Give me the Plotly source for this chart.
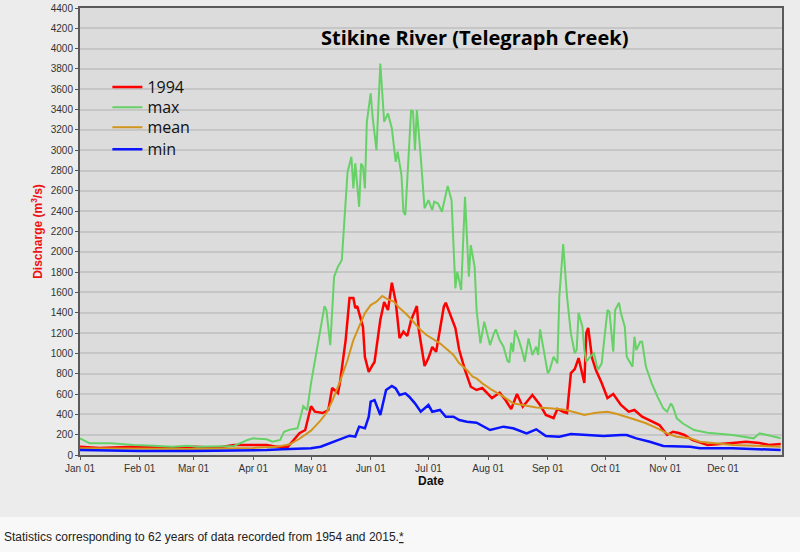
"""Stikine River (Telegraph Creek) daily discharge: 1994 vs. long-term statistics."""

import plotly.graph_objects as go

YEAR = 1994

# 1994 daily discharge (m3/s)
flow_1994_days = [
    "01-01", "01-11", "01-29", "02-15", "03-01", "03-13", "03-22", "04-01", "04-08",
    "04-13", "04-19", "04-22", "04-25", "04-28", "05-01", "05-03", "05-07", "05-10",
    "05-12", "05-15", "05-16", "05-19", "05-21", "05-23", "05-24", "05-25", "05-28",
    "05-29", "05-31", "06-02", "06-03", "06-06", "06-08", "06-10", "06-12", "06-14",
    "06-16", "06-18", "06-20", "06-22", "06-25", "06-26", "06-29", "07-01", "07-03",
    "07-05", "07-09", "07-10", "07-12", "07-15", "07-17", "07-20", "07-23", "07-26",
    "07-29", "07-31", "08-03", "08-07", "08-10", "08-13", "08-16", "08-19", "08-24",
    "08-28", "08-31", "09-04", "09-06", "09-09", "09-11", "09-13", "09-15", "09-17",
    "09-20", "09-21", "09-22", "09-24", "09-26", "09-29", "10-02", "10-05", "10-09",
    "10-13", "10-16", "10-20", "10-25", "10-29", "11-02", "11-05", "11-08", "11-11",
    "11-15", "11-23", "12-06", "12-13", "12-20", "12-25", "12-31",
]
flow_1994 = [
    82, 69, 82, 72, 82, 72, 98, 98, 98,
    82, 82, 148, 215, 246, 480, 426, 413, 443,
    659, 610, 708, 1131, 1545, 1545, 1446, 1466, 1260,
    964, 817, 886, 915, 1328, 1505, 1427, 1696, 1509,
    1151, 1214, 1171, 1328, 1466, 1230, 876, 954, 1063,
    1017, 1460, 1499, 1397, 1250, 1033, 836, 672, 640,
    659, 623, 561, 613, 541, 453, 600, 475, 590,
    492, 394, 364, 453, 426, 413, 807, 846, 954,
    708, 1200, 1250, 954, 836, 708, 561, 600, 492,
    426, 443, 377, 328, 295, 197, 229, 216, 197,
    148, 98, 118, 131, 118, 98, 108,
]

# maximum daily discharge 1954-2015
max_days = [
    "01-01", "01-06", "01-17", "01-29", "02-08", "02-18", "02-26", "03-03", "03-22",
    "03-29", "04-01", "04-08", "04-11", "04-15", "04-17", "04-20", "04-24", "04-25",
    "04-27", "04-29", "05-01", "05-04", "05-07", "05-08", "05-09", "05-11", "05-13",
    "05-15", "05-17", "05-19", "05-20", "05-22", "05-23", "05-24", "05-26", "05-27",
    "05-28", "05-29", "05-30", "06-01", "06-02", "06-04", "06-06", "06-08", "06-10",
    "06-12", "06-14", "06-15", "06-17", "06-18", "06-19", "06-22", "06-23", "06-24",
    "06-25", "06-27", "06-29", "07-01", "07-03", "07-04", "07-06", "07-08", "07-11",
    "07-13", "07-14", "07-15", "07-16", "07-18", "07-20", "07-21", "07-22", "07-23",
    "07-25", "07-26", "07-28", "07-30", "08-02", "08-04", "08-05", "08-07", "08-09",
    "08-11", "08-12", "08-13", "08-14", "08-15", "08-17", "08-19", "08-20", "08-22",
    "08-24", "08-26", "08-27", "08-28", "08-30", "09-01", "09-02", "09-04", "09-06",
    "09-07", "09-09", "09-11", "09-13", "09-15", "09-16", "09-17", "09-19", "09-20",
    "09-21", "09-23", "09-25", "09-27", "09-29", "10-02", "10-03", "10-05", "10-06",
    "10-08", "10-09", "10-11", "10-12", "10-15", "10-16", "10-17", "10-19", "10-20",
    "10-22", "10-25", "10-28", "10-31", "11-02", "11-04", "11-05", "11-07", "11-10",
    "11-14", "11-16", "11-23", "12-06", "12-17", "12-20", "12-24", "12-31",
]
max_flow = [
    164, 115, 115, 98, 92, 82, 92, 82, 89,
    148, 164, 154, 131, 148, 229, 250, 263, 330,
    480, 443, 705, 1033, 1361, 1466, 1427, 1082, 1754,
    1853, 1919, 2443, 2788, 2935, 2624, 2870, 2443, 2870,
    2837, 2624, 3280, 3559, 3329, 3001, 3854, 3280, 3362,
    3214, 2886, 2985, 2755, 2394, 2362, 3395, 3378, 3001,
    3395, 2935, 2427, 2509, 2411, 2493, 2476, 2394, 2647,
    2509, 2050, 1640, 1804, 1624, 2542, 2148, 1754, 2066,
    1853, 1427, 1099, 1312, 1082, 1197, 1237, 1131, 1066,
    928, 909, 1105, 1017, 1230, 1131, 1001, 918, 1148,
    984, 1066, 984, 1237, 1017, 804, 836, 967, 902,
    1558, 2076, 1558, 1197, 1001, 1033, 1400, 1263, 1033,
    918, 967, 1001, 836, 902, 1427, 1410, 1017, 1427,
    1499, 1394, 1263, 967, 869, 1164, 1033, 1115, 1115,
    869, 705, 574, 459, 426, 508, 475, 361, 312,
    263, 246, 220, 197, 164, 213, 197, 164,
]

# mean daily discharge
mean_days = [
    "01-01", "02-01", "03-01", "04-01", "04-13", "04-20", "04-25", "05-01", "05-06",
    "05-09", "05-12", "05-16", "05-20", "05-23", "05-26", "05-29", "06-01", "06-04",
    "06-07", "06-09", "06-13", "06-16", "06-20", "06-23", "06-27", "06-30", "07-03",
    "07-07", "07-10", "07-14", "07-17", "07-21", "07-24", "07-26", "07-29", "08-03",
    "08-09", "08-14", "08-19", "08-26", "09-02", "09-09", "09-16", "09-20", "09-26",
    "10-02", "10-07", "10-12", "10-17", "10-22", "10-28", "11-02", "11-07", "11-14",
    "11-19", "12-06", "12-31",
]
mean_flow = [
    66, 62, 60, 70, 80, 105, 160, 240, 340,
    413, 530, 720, 935, 1131, 1263, 1397, 1476, 1509,
    1565, 1542, 1509, 1446, 1378, 1312, 1230, 1181, 1148,
    1099, 1050, 984, 902, 836, 770, 754, 705, 640,
    574, 508, 492, 468, 459, 449, 416, 394, 416,
    426, 403, 377, 344, 312, 263, 213, 180, 164,
    131, 98, 82,
]

# minimum daily discharge
min_days = [
    "01-01", "01-15", "02-01", "03-01", "04-01", "04-08", "04-16", "05-01", "05-06",
    "05-11", "05-16", "05-21", "05-24", "05-26", "05-29", "05-31", "06-01", "06-03",
    "06-06", "06-09", "06-12", "06-14", "06-16", "06-19", "06-21", "06-24", "06-27",
    "07-01", "07-03", "07-07", "07-10", "07-14", "07-17", "07-21", "07-26", "08-02",
    "08-09", "08-14", "08-21", "08-26", "08-31", "09-07", "09-13", "09-21", "09-30",
    "10-09", "10-12", "10-17", "10-24", "10-31", "11-07", "11-14", "11-19", "12-06",
    "12-31",
]
min_flow = [
    49, 42, 40, 39, 42, 49, 56, 66, 82,
    118, 148, 190, 180, 279, 263, 377, 525, 541,
    394, 640, 680, 656, 590, 607, 574, 508, 426,
    492, 426, 443, 377, 377, 344, 328, 318, 246,
    279, 263, 213, 253, 187, 180, 207, 197, 187,
    197, 197, 164, 131, 89, 89, 82, 66, 66,
    49,
]

# name, dates, values, colour, width, legend slot, legend row (paper y)
series = [
    ("1994", flow_1994_days, flow_1994, "#ff0000", 2.5, "legend", 0.823),
    ("max", max_days, max_flow, "#66d166", 2, "legend2", 0.778),
    ("mean", mean_days, mean_flow, "#d4951c", 2, "legend3", 0.733),
    ("min", min_days, min_flow, "#0a14ff", 2.5, "legend4", 0.684),
]

fig = go.Figure()
legend_layout = {}
for name, days, values, color, width, legend_id, legend_y in series:
    fig.add_trace(
        go.Scatter(
            x=[f"{YEAR}-{day}" for day in days],
            y=values,
            mode="lines",
            name=name,
            line=dict(color=color, width=width),
            legend=legend_id,
        )
    )
    # one legend per row so the rows can sit as tightly as in the original
    legend_layout[legend_id] = dict(
        x=0.039,
        y=legend_y,
        xanchor="left",
        yanchor="middle",
        bgcolor="rgba(0,0,0,0)",
        font=dict(family="Open Sans, sans-serif", size=16, color="#111111"),
        itemwidth=30,
    )

label_font = "Liberation Sans, Arial, sans-serif"
tick_font = dict(family=label_font, size=10, color="#333333")

fig.update_layout(
    width=800,
    height=552,
    margin=dict(l=80, r=18, t=8, b=97),
    paper_bgcolor="#f8f8f8",
    plot_bgcolor="rgba(0,0,0,0)",
    showlegend=True,
    shapes=[
        # grey panel behind the chart
        dict(type="rect", xref="paper", yref="paper", x0=-0.12, x1=1.04,
             y0=-0.1387, y1=1.03, fillcolor="#ececec", line_width=0, layer="below"),
        # plot area
        dict(type="rect", xref="paper", yref="paper", x0=0, x1=1, y0=0, y1=1,
             fillcolor="#dcdcdc", line_width=0, layer="below"),
    ],
    annotations=[
        dict(
            text="<b>Stikine River (Telegraph Creek)</b>",
            xref="paper", yref="paper", x=0.562, y=0.935,
            xanchor="center", yanchor="middle", showarrow=False,
            font=dict(family="Open Sans, sans-serif", size=20, color="#000000"),
        ),
        dict(
            text="Statistics corresponding to 62 years of data recorded from 1954 and 2015.<u>*</u>",
            xref="paper", yref="paper", x=-0.111, y=-0.1834,
            xanchor="left", yanchor="middle", showarrow=False,
            font=dict(family=label_font, size=12, color="#222222"),
        ),
    ],
    **legend_layout,
)

fig.update_xaxes(
    type="date",
    range=[f"{YEAR}-01-01", f"{YEAR}-12-31 16:00"],
    dtick="M1",
    tick0=f"{YEAR}-01-01",
    tickformat="%b %d",
    ticks="outside",
    ticklen=3,
    tickcolor="#555555",
    tickfont=tick_font,
    showgrid=False,
    showline=True,
    linecolor="#5a5a5a",
    linewidth=2,
    mirror=True,
    zeroline=False,
    automargin=False,
    title=dict(text="<b>Date</b>", font=dict(family=label_font, size=12, color="#111111"), standoff=2),
)
fig.update_yaxes(
    range=[0, 4400],
    dtick=200,
    ticks="outside",
    ticklen=3,
    tickcolor="#555555",
    tickfont=tick_font,
    showgrid=True,
    gridcolor="#c6c6c6",
    gridwidth=1.5,
    showline=True,
    linecolor="#5a5a5a",
    linewidth=2,
    mirror=True,
    zeroline=False,
    automargin=False,
    title=dict(
        text="<b>Discharge (m<sup>3</sup>/s)</b>",
        font=dict(family=label_font, size=12, color="#ee1111"),
        standoff=6,
    ),
)

# the page body has a default 8px margin; drop it so the figure starts at the corner
fig.write_html(
    "out.html",
    config={"displayModeBar": False},
    post_script="document.body.style.margin = '0px';",
)
